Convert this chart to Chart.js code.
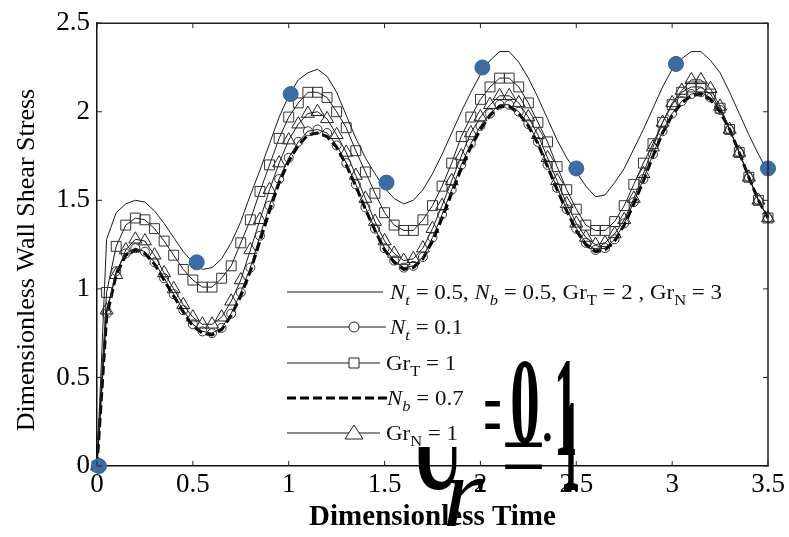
<!DOCTYPE html>
<html>
<head>
<meta charset="utf-8">
<script src="https://cdn.jsdelivr.net/npm/chart.js@4.4.1/dist/chart.umd.min.js"></script>
<style>
  html, body { margin: 0; padding: 0; background: #fff; }
  #wrap { width: 789px; height: 537px; }
</style>
</head>
<body>
<div id="wrap"><canvas id="chart-shear" width="789" height="537"></canvas></div>
<script>
// Dimensionless wall shear stress vs dimensionless time

const time = [
  0, 0.05, 0.1, 0.15, 0.2, 0.25, 0.3, 0.35, 0.4, 0.45,
  0.5, 0.55, 0.6, 0.65, 0.7, 0.75, 0.8, 0.85, 0.9, 0.95,
  1, 1.05, 1.1, 1.15, 1.2, 1.25, 1.3, 1.35, 1.4, 1.45,
  1.5, 1.55, 1.6, 1.65, 1.7, 1.75, 1.8, 1.85, 1.9, 1.95,
  2, 2.05, 2.1, 2.15, 2.2, 2.25, 2.3, 2.35, 2.4, 2.45,
  2.5, 2.55, 2.6, 2.65, 2.7, 2.75, 2.8, 2.85, 2.9, 2.95,
  3, 3.05, 3.1, 3.15, 3.2, 3.25, 3.3, 3.35, 3.4, 3.45, 3.5];

// Nt = 0.5, Nb = 0.5, GrT = 2, GrN = 3
const baseCase = [
  0, 1.28, 1.43, 1.48, 1.5, 1.49, 1.44, 1.37, 1.29, 1.21,
  1.15, 1.11, 1.12, 1.17, 1.26, 1.38, 1.53, 1.67, 1.82, 1.97,
  2.09, 2.18, 2.22, 2.24, 2.2, 2.11, 1.98, 1.85, 1.74, 1.65,
  1.57, 1.51, 1.48, 1.5, 1.56, 1.65, 1.76, 1.88, 2.0, 2.11,
  2.21, 2.29, 2.34, 2.34, 2.28, 2.19, 2.08, 1.96, 1.84, 1.74,
  1.66, 1.58, 1.52, 1.53, 1.6, 1.68, 1.79, 1.9, 2.02, 2.14,
  2.24, 2.3, 2.34, 2.34, 2.29, 2.22, 2.11, 1.99, 1.87, 1.76, 1.66];

// Nt = 0.1
const ntLow = [
  0, 0.86, 1.1, 1.2, 1.23, 1.21, 1.15, 1.06, 0.97, 0.88,
  0.8, 0.76, 0.75, 0.78, 0.86, 0.98, 1.12, 1.3, 1.47, 1.62,
  1.74, 1.83, 1.89, 1.9, 1.88, 1.81, 1.71, 1.59, 1.46, 1.34,
  1.23, 1.16, 1.12, 1.13, 1.18, 1.29, 1.42, 1.56, 1.7, 1.82,
  1.92, 1.99, 2.04, 2.04, 2.0, 1.93, 1.83, 1.7, 1.57, 1.45,
  1.34, 1.26, 1.22, 1.23, 1.28, 1.37, 1.49, 1.62, 1.76, 1.89,
  1.99, 2.06, 2.1, 2.11, 2.08, 2.01, 1.9, 1.77, 1.63, 1.5, 1.4];

// GrT = 1
const grTLow = [
  0, 0.98, 1.24, 1.36, 1.4, 1.39, 1.34, 1.27, 1.19, 1.11,
  1.05, 1.01, 1.01, 1.06, 1.13, 1.26, 1.39, 1.55, 1.7, 1.85,
  1.97, 2.05, 2.11, 2.11, 2.08, 2.0, 1.91, 1.78, 1.66, 1.54,
  1.43, 1.36, 1.33, 1.33, 1.39, 1.47, 1.58, 1.71, 1.86, 1.97,
  2.07, 2.14, 2.19, 2.19, 2.14, 2.05, 1.94, 1.83, 1.69, 1.56,
  1.45, 1.36, 1.33, 1.33, 1.38, 1.47, 1.59, 1.71, 1.82, 1.94,
  2.04, 2.11, 2.14, 2.14, 2.1, 2.02, 1.9, 1.77, 1.63, 1.5, 1.4];

// Nb = 0.7
const nbHigh = [
  0, 0.84, 1.08, 1.19, 1.22, 1.2, 1.14, 1.05, 0.96, 0.87,
  0.79, 0.75, 0.74, 0.77, 0.85, 0.96, 1.1, 1.27, 1.44, 1.6,
  1.72, 1.81, 1.87, 1.88, 1.86, 1.8, 1.7, 1.58, 1.45, 1.33,
  1.22, 1.15, 1.11, 1.12, 1.17, 1.27, 1.4, 1.54, 1.68, 1.8,
  1.9, 1.98, 2.03, 2.03, 1.99, 1.92, 1.82, 1.69, 1.56, 1.44,
  1.33, 1.25, 1.21, 1.22, 1.27, 1.36, 1.48, 1.61, 1.75, 1.88,
  1.98, 2.05, 2.09, 2.1, 2.07, 2.0, 1.9, 1.77, 1.63, 1.5, 1.4];

// GrN = 1
const grNLow = [
  0, 0.88, 1.08, 1.22, 1.28, 1.27, 1.19, 1.09, 1.0, 0.91,
  0.84, 0.8, 0.8, 0.84, 0.93, 1.05, 1.22, 1.39, 1.56, 1.71,
  1.84, 1.93, 1.99, 2.0, 1.96, 1.87, 1.77, 1.64, 1.51, 1.38,
  1.27, 1.2, 1.16, 1.17, 1.23, 1.34, 1.47, 1.61, 1.75, 1.88,
  1.97, 2.04, 2.09, 2.09, 2.05, 1.97, 1.87, 1.74, 1.61, 1.48,
  1.37, 1.29, 1.25, 1.26, 1.31, 1.39, 1.51, 1.65, 1.8, 1.94,
  2.05, 2.12, 2.18, 2.18, 2.13, 2.03, 1.9, 1.77, 1.63, 1.5, 1.4];

// blue markers
const dotTime = [0.01, 0.52, 1.01, 1.51, 2.01, 2.5, 3.02, 3.5];
const dotShear = [0, 1.15, 2.1, 1.6, 2.25, 1.68, 2.27, 1.68];

const xTickVals = [0, 0.5, 1, 1.5, 2, 2.5, 3, 3.5];
const yTickVals = [0, 0.5, 1, 1.5, 2, 2.5];

// legend rows: [text, italic, subscript]
const legendRows = [
  [['N', 1, 0], ['t', 1, 1], [' = 0.5, ', 0, 0], ['N', 1, 0], ['b', 1, 1], [' = 0.5, Gr', 0, 0], ['T', 0, 1], [' = 2 , Gr', 0, 0], ['N', 0, 1], [' = 3', 0, 0]],
  [['N', 1, 0], ['t', 1, 1], [' = 0.1', 0, 0]],
  [['Gr', 0, 0], ['T', 0, 1], [' = 1', 0, 0]],
  [['N', 1, 0], ['b', 1, 1], [' = 0.7', 0, 0]],
  [['Gr', 0, 0], ['N', 0, 1], [' = 1', 0, 0]]
];

const pts = (ys) => time.map((t, i) => ({x: t, y: ys[i]}));
const serif = '"Liberation Serif", "Times New Roman", serif';

const dataShear = {
  datasets: [
    {
      data: dotTime.map((t, i) => ({x: t, y: dotShear[i]})),
      showLine: false,
      clip: false,
      pointStyle: 'circle',
      pointRadius: 7.5,
      pointBackgroundColor: '#3d6ba3',
      pointBorderColor: '#36619a',
      pointBorderWidth: 1
    },
    {
      data: pts(baseCase),
      clip: false,
      borderColor: '#1a1a1a',
      borderWidth: 1,
      pointRadius: 0
    },
    {
      data: pts(ntLow),
      clip: false,
      borderColor: '#1a1a1a',
      borderWidth: 1,
      pointStyle: 'circle',
      pointRadius: 4.5,
      pointBorderColor: '#333',
      pointBackgroundColor: 'rgba(0,0,0,0)',
      pointBorderWidth: 1
    },
    {
      data: pts(grTLow),
      clip: false,
      borderColor: '#1a1a1a',
      borderWidth: 1,
      pointStyle: 'rect',
      pointRadius: 7,
      pointBorderColor: '#333',
      pointBackgroundColor: 'rgba(0,0,0,0)',
      pointBorderWidth: 1
    },
    {
      data: pts(nbHigh),
      clip: false,
      borderColor: '#000',
      borderWidth: 3,
      borderDash: [9, 4],
      pointRadius: 0
    },
    {
      data: pts(grNLow),
      clip: false,
      borderColor: '#1a1a1a',
      borderWidth: 1,
      pointStyle: 'triangle',
      pointRadius: 7.5,
      pointBorderColor: '#222',
      pointBackgroundColor: 'rgba(0,0,0,0)',
      pointBorderWidth: 1
    }
  ]
};

function drawFit(ctx, text, font, box, clipTop) {
  ctx.save();
  ctx.font = font;
  const m = ctx.measureText(text);
  const w = m.actualBoundingBoxLeft + m.actualBoundingBoxRight;
  const h = m.actualBoundingBoxAscent + m.actualBoundingBoxDescent;
  if (clipTop) {
    ctx.beginPath();
    ctx.rect(0, clipTop, 789, 537 - clipTop);
    ctx.clip();
  }
  ctx.translate(box[0], box[1]);
  ctx.scale((box[2] - box[0]) / w, (box[3] - box[1]) / h);
  ctx.textAlign = 'left';
  ctx.textBaseline = 'alphabetic';
  ctx.fillText(text, m.actualBoundingBoxLeft, m.actualBoundingBoxAscent);
  ctx.restore();
}

function drawMath(ctx, parts, x, base, size, sx) {
  ctx.save();
  ctx.translate(x, base);
  ctx.scale(sx, 1);
  let cx = 0;
  parts.forEach(([t, it, sub]) => {
    const fs = sub ? size * 0.72 : size;
    ctx.font = (it ? 'italic ' : '') + fs + 'px ' + serif;
    ctx.fillText(t, cx, sub ? size * 0.28 : 0);
    cx += ctx.measureText(t).width;
  });
  ctx.restore();
}

function mathWidth(ctx, parts, size) {
  let w = 0;
  parts.forEach(([t, it, sub]) => {
    ctx.font = (it ? 'italic ' : '') + (sub ? size * 0.72 : size) + 'px ' + serif;
    w += ctx.measureText(t).width;
  });
  return w;
}

const frameAndNotes = {
  id: 'frameAndNotes',
  afterDraw(chart) {
    const {ctx, chartArea: a, scales: {x, y}} = chart;
    ctx.save();

    // top and right frame
    ctx.strokeStyle = '#222';
    ctx.lineWidth = 1.5;
    ctx.beginPath();
    ctx.moveTo(a.left, a.top);
    ctx.lineTo(a.right, a.top);
    ctx.lineTo(a.right, a.bottom);
    ctx.stroke();

    // inward ticks
    ctx.lineWidth = 1;
    ctx.beginPath();
    xTickVals.forEach(v => {
      const px = x.getPixelForValue(v);
      ctx.moveTo(px, a.bottom); ctx.lineTo(px, a.bottom - 5);
      ctx.moveTo(px, a.top); ctx.lineTo(px, a.top + 5);
    });
    yTickVals.forEach(v => {
      const py = y.getPixelForValue(v);
      ctx.moveTo(a.left, py); ctx.lineTo(a.left + 5, py);
      ctx.moveTo(a.right, py); ctx.lineTo(a.right - 5, py);
    });
    ctx.stroke();

    // y title
    ctx.save();
    ctx.translate(27, 260);
    ctx.rotate(-Math.PI / 2);
    ctx.fillStyle = '#000';
    ctx.font = '26px ' + serif;
    ctx.textAlign = 'center';
    ctx.textBaseline = 'middle';
    ctx.fillText('Dimensionless Wall Shear Stress', 0, 0);
    ctx.restore();

    // big equation remnant
    ctx.fillStyle = '#000';
    drawFit(ctx, 'U', 'bold 100px ' + serif, [413, 410, 462, 490], 447);
    drawFit(ctx, 'r', 'italic 100px ' + serif, [447, 478, 485, 526]);
    drawFit(ctx, '=', '100px ' + serif, [485, 400, 500, 428]);
    drawFit(ctx, '0', 'bold 100px ' + serif, [512, 362, 538, 445]);
    drawFit(ctx, '.', 'bold 100px ' + serif, [544, 433, 551, 442]);
    drawFit(ctx, '1', 'bold 100px ' + serif, [558, 362, 575, 455]);
    drawFit(ctx, '1', 'bold 100px ' + serif, [564, 403, 578, 490]);
    drawFit(ctx, '_', 'bold 100px ' + serif, [505, 442, 542, 447]);
    drawFit(ctx, '_', 'bold 100px ' + serif, [505, 464, 542, 469]);

    // legend
    const rowY = [292, 327, 363, 398, 433];
    const lineEnd = [383, 386, 380, 387, 380];
    const textX = [390, 390, 386, 387, 386];
    const size = 21;
    const sx = 332 / mathWidth(ctx, legendRows[0], size);
    legendRows.forEach((parts, i) => {
      const ds = chart.data.datasets[i + 1];
      const ly = rowY[i];
      ctx.save();
      ctx.strokeStyle = ds.borderColor;
      ctx.lineWidth = ds.borderWidth;
      ctx.setLineDash(ds.borderDash || []);
      ctx.beginPath();
      ctx.moveTo(287, ly);
      ctx.lineTo(lineEnd[i], ly);
      ctx.stroke();
      ctx.restore();
      if (ds.pointRadius > 0) {
        ctx.save();
        ctx.fillStyle = '#fff';
        ctx.strokeStyle = '#222';
        ctx.lineWidth = 1;
        ctx.beginPath();
        if (ds.pointStyle === 'circle') {
          ctx.arc(354, ly, 5, 0, Math.PI * 2);
        } else if (ds.pointStyle === 'rect') {
          ctx.rect(349, ly - 5, 10, 10);
        } else {
          ctx.moveTo(354, ly - 8);
          ctx.lineTo(363, ly + 6);
          ctx.lineTo(345, ly + 6);
          ctx.closePath();
        }
        ctx.fill();
        ctx.stroke();
        ctx.restore();
      }
      ctx.fillStyle = '#111';
      ctx.textBaseline = 'alphabetic';
      drawMath(ctx, parts, textX[i], ly + 7, size, sx);
    });

    ctx.restore();
  }
};

const configShear = {
  type: 'line',
  data: dataShear,
  options: {
    responsive: false,
    animation: false,
    layout: { padding: { top: 18, right: 21, left: 0, bottom: 0 } },
    elements: { line: { tension: 0 } },
    plugins: {
      legend: { display: false },
      tooltip: { enabled: false }
    },
    scales: {
      x: {
        type: 'linear',
        min: 0,
        max: 3.5,
        afterFit: (s) => { s.height = 71; },
        grid: { drawOnChartArea: false, drawTicks: false },
        border: { color: '#111', width: 1.5 },
        ticks: {
          stepSize: 0.5,
          padding: 3,
          color: '#000',
          maxRotation: 0,
          autoSkip: false,
          callback: (v) => String(v),
          font: { family: serif, size: 27 }
        },
        title: {
          display: true,
          text: 'Dimensionless Time',
          color: '#000',
          font: { family: serif, size: 29, weight: 'bold' },
          padding: { top: 0, bottom: 2 }
        }
      },
      y: {
        min: 0,
        max: 2.5,
        afterFit: (s) => { s.width = 97; },
        grid: { drawOnChartArea: false, drawTicks: false },
        border: { color: '#111', width: 1.5 },
        ticks: {
          stepSize: 0.5,
          padding: 7,
          color: '#000',
          callback: (v) => String(v),
          font: { family: serif, size: 27 }
        }
      }
    }
  },
  plugins: [frameAndNotes]
};

const chartShear = new Chart(
  document.getElementById('chart-shear'),
  configShear
);
</script>
</body>
</html>
